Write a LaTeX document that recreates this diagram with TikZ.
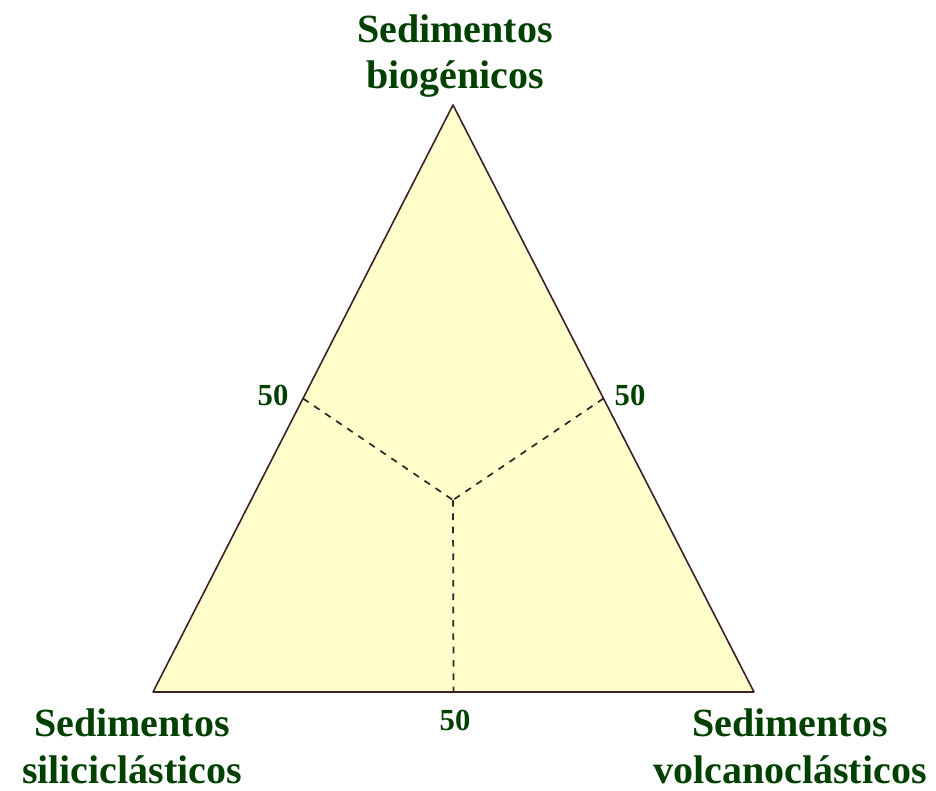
\documentclass[tikz,border=0pt]{standalone}
\usepackage{fontspec}
\setmainfont{Liberation Serif}
\usetikzlibrary{calc}

\begin{document}
\begin{tikzpicture}[x=0.75pt,y=-0.75pt]
  \definecolor{fillyellow}{RGB}{255,255,204}
  \definecolor{edgecol}{RGB}{64,32,40}
  \definecolor{labelgreen}{RGB}{0,64,0}

  \tikzset{
    vertexlabel/.style={font=\fontsize{30}{35}\selectfont\bfseries,text=labelgreen,align=center,inner sep=0pt},
    ticklabel/.style={font=\fontsize{23}{26}\selectfont\bfseries,text=labelgreen,inner sep=0pt},
    triframe/.style={draw=edgecol,fill=fillyellow,line width=1.2pt,line join=round},
    divline/.style={draw=edgecol,line width=1.3pt,dash pattern=on 5pt off 5pt}
  }

  \useasboundingbox (0,0) rectangle (936,790);

  % Corners of the diagram
  \coordinate (bio) at (453,105);
  \coordinate (sil) at (153,692);
  \coordinate (vol) at (754,692);

  \draw[triframe] (bio) -- (sil) -- (vol) -- cycle;

  % 50 % points and centre
  \coordinate (midL) at ($(bio)!0.5!(sil)$);
  \coordinate (midR) at ($(bio)!0.5!(vol)$);
  \coordinate (midB) at ($(sil)!0.5!(vol)$);
  \coordinate (ctr) at (453,500);

  \draw[divline] (midL) -- (ctr);
  \draw[divline] (midR) -- (ctr);
  \draw[divline] (ctr) -- (midB);

  % Corner labels
  \node[vertexlabel] (lbio) at (455,56) {Sedimentos\\biogénicos};
  \node[vertexlabel] (lsil) at (132,746) {Sedimentos\\siliciclásticos};
  \node[vertexlabel] (lvol) at (790,746) {Sedimentos\\volcanoclásticos};

  % Tick labels
  \node[ticklabel] (tL) at (273,395) {50};
  \node[ticklabel] (tR) at (630,395) {50};
  \node[ticklabel] (tB) at (455,720) {50};
\end{tikzpicture}
\end{document}
